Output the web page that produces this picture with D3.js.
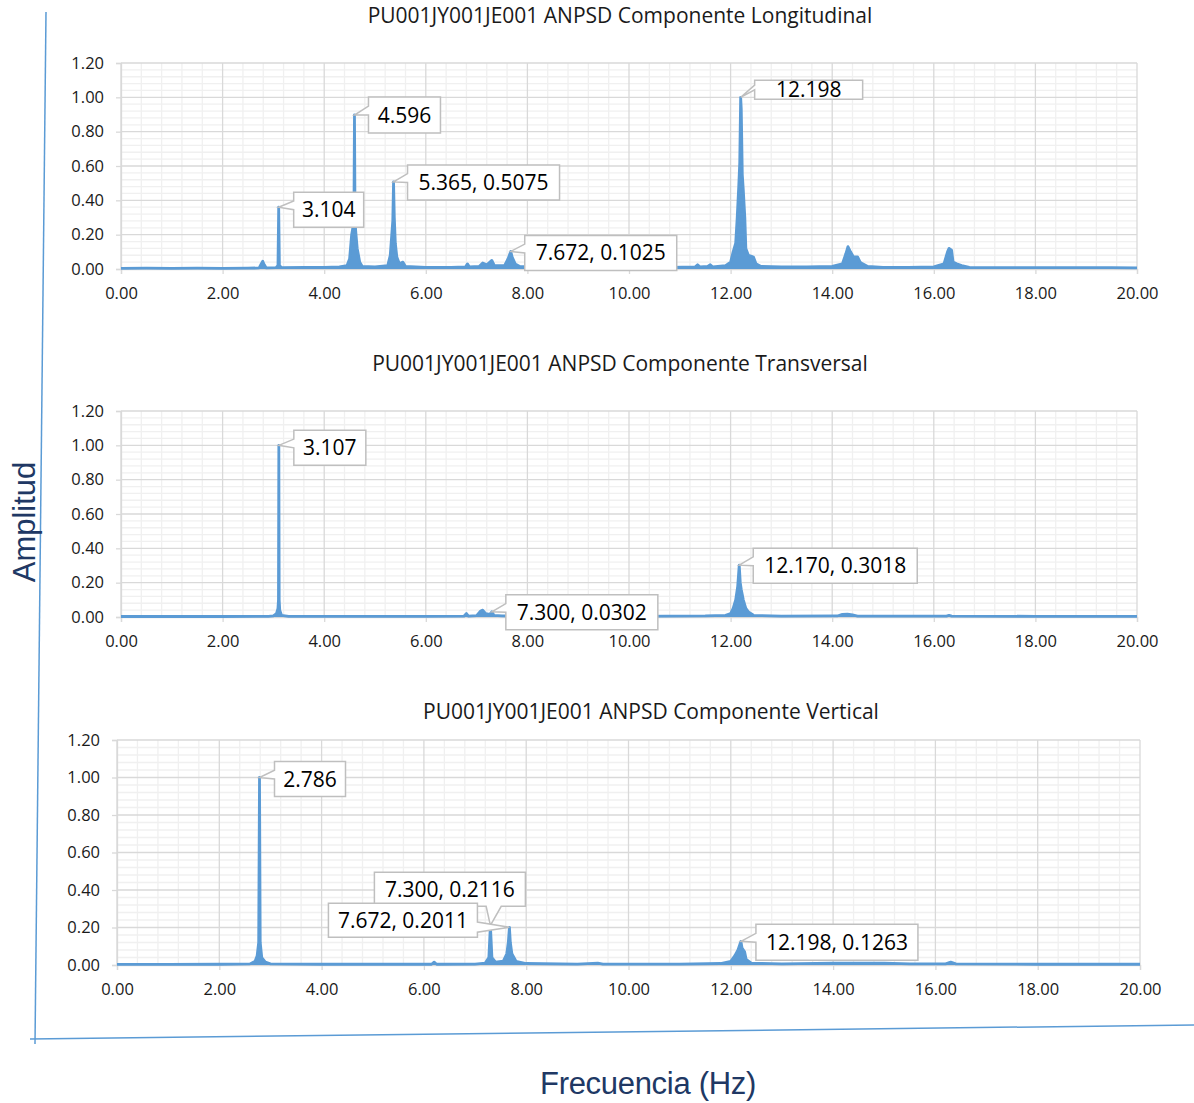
<!DOCTYPE html>
<html>
<head>
<meta charset="utf-8">
<script src="https://cdn.jsdelivr.net/npm/d3@7/dist/d3.min.js"></script>
<style>
  html, body { margin: 0; padding: 0; background: #ffffff; }
  svg { display: block; }
</style>
</head>
<body>
<svg id="chart" width="1194" height="1103"></svg>
<script>
// ---- Spectrum data: [frequency (Hz), normalized amplitude] ----
const longitudinal = [
  [0, 0.004], [0.5, 0.005], [1.0, 0.004], [1.5, 0.005], [2.0, 0.004], [2.5, 0.005],
  [2.72, 0.006], [2.76, 0.03], [2.79, 0.045], [2.82, 0.025], [2.86, 0.006],
  [3.05, 0.008], [3.09, 0.02], [3.104, 0.36], [3.118, 0.02], [3.16, 0.008],
  [3.6, 0.009], [4.0, 0.01], [4.3, 0.012], [4.45, 0.02], [4.5, 0.06], [4.54, 0.2],
  [4.57, 0.25], [4.585, 0.3], [4.596, 0.897], [4.607, 0.3], [4.62, 0.22], [4.65, 0.12],
  [4.7, 0.04], [4.75, 0.015], [5.0, 0.012], [5.25, 0.02], [5.3, 0.08], [5.33, 0.2],
  [5.35, 0.28], [5.365, 0.5075], [5.38, 0.3], [5.4, 0.15], [5.43, 0.07], [5.48, 0.03],
  [5.55, 0.04], [5.6, 0.015], [6.0, 0.01], [6.5, 0.01], [6.78, 0.012], [6.82, 0.03],
  [6.86, 0.012], [7.05, 0.015], [7.12, 0.035], [7.2, 0.025], [7.3, 0.05], [7.35, 0.02],
  [7.55, 0.02], [7.62, 0.06], [7.672, 0.1025], [7.7, 0.07], [7.76, 0.03], [7.85, 0.015],
  [8.2, 0.01], [9.0, 0.008], [10.0, 0.008], [10.8, 0.01], [11.3, 0.012], [11.35, 0.025],
  [11.4, 0.012], [11.55, 0.015], [11.6, 0.025], [11.65, 0.012], [11.9, 0.02], [12.0, 0.04],
  [12.05, 0.1], [12.1, 0.15], [12.13, 0.3], [12.16, 0.48], [12.18, 0.62], [12.198, 1.0],
  [12.21, 0.93], [12.23, 0.55], [12.25, 0.46], [12.28, 0.3], [12.3, 0.12], [12.35, 0.08],
  [12.4, 0.075], [12.45, 0.07], [12.5, 0.03], [12.6, 0.015], [13.0, 0.012], [13.5, 0.012],
  [14.0, 0.015], [14.2, 0.03], [14.27, 0.09], [14.31, 0.13], [14.36, 0.1], [14.42, 0.07],
  [14.5, 0.07], [14.55, 0.04], [14.6, 0.03], [14.7, 0.015], [15.0, 0.01], [15.5, 0.01],
  [16.0, 0.012], [16.2, 0.03], [16.27, 0.1], [16.3, 0.12], [16.35, 0.11], [16.38, 0.04],
  [16.45, 0.03], [16.55, 0.02], [16.7, 0.01], [17.5, 0.008], [18.5, 0.008], [19.5, 0.008],
  [20, 0.007]
];

const transversal = [
  [0, 0.003], [1, 0.003], [2, 0.003], [2.9, 0.004], [3.0, 0.006], [3.06, 0.02],
  [3.09, 0.05], [3.1, 0.1], [3.107, 1.0], [3.114, 0.1], [3.125, 0.04], [3.16, 0.01],
  [3.3, 0.004], [4.5, 0.004], [6.0, 0.004], [6.75, 0.005], [6.8, 0.02], [6.84, 0.005],
  [7.0, 0.008], [7.08, 0.035], [7.12, 0.04], [7.18, 0.02], [7.26, 0.015], [7.3, 0.0302],
  [7.34, 0.01], [7.5, 0.006], [8.5, 0.004], [10, 0.004], [11.5, 0.006], [11.9, 0.01],
  [12.0, 0.02], [12.05, 0.05], [12.1, 0.1], [12.14, 0.18], [12.17, 0.3018], [12.19, 0.2],
  [12.21, 0.16], [12.25, 0.1], [12.3, 0.05], [12.35, 0.03], [12.45, 0.01], [13, 0.005],
  [14.1, 0.006], [14.2, 0.015], [14.3, 0.017], [14.4, 0.012], [14.5, 0.005], [16.25, 0.005],
  [16.3, 0.01], [16.35, 0.005], [18, 0.004], [20, 0.004]
];

const vertical = [
  [0, 0.003], [1, 0.003], [2, 0.004], [2.6, 0.006], [2.7, 0.02], [2.74, 0.05],
  [2.77, 0.12], [2.786, 1.0], [2.8, 0.12], [2.83, 0.04], [2.9, 0.015], [3.0, 0.006],
  [4, 0.004], [5, 0.004], [6.15, 0.004], [6.2, 0.015], [6.25, 0.004], [7.0, 0.005],
  [7.2, 0.01], [7.27, 0.04], [7.3, 0.2116], [7.33, 0.04], [7.4, 0.015], [7.55, 0.02],
  [7.62, 0.06], [7.65, 0.12], [7.672, 0.2011], [7.69, 0.12], [7.72, 0.06], [7.8, 0.02],
  [8.0, 0.008], [9.0, 0.005], [9.4, 0.01], [9.5, 0.005], [11, 0.005], [11.8, 0.008],
  [12.0, 0.02], [12.08, 0.05], [12.14, 0.08], [12.198, 0.1263], [12.22, 0.09], [12.27, 0.07],
  [12.3, 0.03], [12.4, 0.01], [13, 0.006], [14, 0.01], [15, 0.01], [15.5, 0.006],
  [16.2, 0.006], [16.3, 0.015], [16.4, 0.006], [18, 0.004], [20, 0.004]
];

// ---- Peak labels: text, frequency, amplitude ----
const longLabels = [
  { text: "3.104", f: 3.104, a: 0.36 },
  { text: "4.596", f: 4.596, a: 0.897 },
  { text: "5.365, 0.5075", f: 5.365, a: 0.5075 },
  { text: "7.672, 0.1025", f: 7.672, a: 0.1025 },
  { text: "12.198", f: 12.198, a: 1.0 }
];
const transLabels = [
  { text: "3.107", f: 3.107, a: 1.0 },
  { text: "7.300, 0.0302", f: 7.300, a: 0.0302 },
  { text: "12.170, 0.3018", f: 12.170, a: 0.3018 }
];
const vertLabels = [
  { text: "2.786", f: 2.786, a: 1.0 },
  { text: "7.300, 0.2116", f: 7.300, a: 0.2116 },
  { text: "7.672, 0.2011", f: 7.672, a: 0.2011 },
  { text: "12.198, 0.1263", f: 12.198, a: 0.1263 }
];

// ---- Axis ticks and text ----
const xTicks = [0, 2, 4, 6, 8, 10, 12, 14, 16, 18, 20];
const yTicks = [0, 0.2, 0.4, 0.6, 0.8, 1.0, 1.2];
const titles = [
  "PU001JY001JE001 ANPSD Componente Longitudinal",
  "PU001JY001JE001 ANPSD Componente Transversal",
  "PU001JY001JE001 ANPSD Componente Vertical"
];
const yAxisTitle = "Amplitud";
const xAxisTitle = "Frecuencia (Hz)";

// ---- Layout ----
const BLUE = "#5b9bd5";
const FONT = "'Open Sans', sans-serif";

// label box layout: offset from the peak (dx, dy), size (w, h), side of the pointer
const panels = [
  {
    data: longitudinal, labels: longLabels, title: titles[0],
    left: 121, right: 1137, bottom: 269, top: 63, titleX: 620, titleY: 16,
    boxes: [
      { dx: 15, dy: -15, w: 70, h: 35, side: "left" },
      { dx: 14, dy: -18, w: 72, h: 36, side: "left" },
      { dx: 14, dy: -17, w: 152, h: 35, side: "left" },
      { dx: 14, dy: -16, w: 152, h: 35, side: "left" },
      { dx: 14, dy: -17, w: 108, h: 19, side: "left" }
    ]
  },
  {
    data: transversal, labels: transLabels, title: titles[1],
    left: 121, right: 1137, bottom: 617, top: 411, titleX: 620, titleY: 364,
    boxes: [
      { dx: 15, dy: -15, w: 72, h: 35, side: "left" },
      { dx: 14, dy: -17, w: 152, h: 35, side: "left" },
      { dx: 14, dy: -17, w: 164, h: 35, side: "left" }
    ]
  },
  {
    data: vertical, labels: vertLabels, title: titles[2],
    left: 117, right: 1140, bottom: 965, top: 740, titleX: 651, titleY: 712,
    boxes: [
      { dx: 15, dy: -16, w: 71, h: 35, side: "left" },
      { dx: -116, dy: -53, w: 151, h: 34, side: "bottom" },
      { dx: -181, dy: -24, w: 149, h: 34, side: "right" },
      { dx: 15, dy: -17, w: 162, h: 36, side: "left" }
    ]
  }
];

const svg = d3.select("#chart");
svg.append("rect").attr("width", 1194).attr("height", 1103).attr("fill", "#ffffff");

// Callout outline: box with a wedge pointing at (ax, ay)
function calloutPath(bx, by, w, h, ax, ay, side) {
  const p = d3.path();
  if (side === "left") {
    p.moveTo(bx, by); p.lineTo(bx + w, by); p.lineTo(bx + w, by + h); p.lineTo(bx, by + h);
    p.lineTo(bx, by + h * 0.5); p.lineTo(ax, ay); p.lineTo(bx, by + h * 0.25);
  } else if (side === "bottom") {
    p.moveTo(bx, by); p.lineTo(bx + w, by); p.lineTo(bx + w, by + h);
    p.lineTo(bx + w * 0.84, by + h); p.lineTo(ax, ay); p.lineTo(bx + w * 0.74, by + h);
    p.lineTo(bx, by + h);
  } else {
    p.moveTo(bx, by); p.lineTo(bx + w, by); p.lineTo(bx + w, by + h * 0.55);
    p.lineTo(ax, ay); p.lineTo(bx + w, by + h * 0.85); p.lineTo(bx + w, by + h);
    p.lineTo(bx, by + h);
  }
  p.closePath();
  return p.toString();
}

panels.forEach(pn => {
  const x = d3.scaleLinear().domain([0, 20]).range([pn.left, pn.right]);
  const y = d3.scaleLinear().domain([0, 1.2]).range([pn.bottom, pn.top]);
  const g = svg.append("g");

  // minor grid
  const xMinor = d3.range(0, 20.001, 0.4).filter(v => Math.abs(v / 2 - Math.round(v / 2)) > 1e-6);
  const yMinor = d3.range(0, 1.2001, 0.04).filter(v => Math.abs(v / 0.2 - Math.round(v / 0.2)) > 1e-6);
  g.selectAll(".xminor").data(xMinor).join("line")
    .attr("x1", d => x(d)).attr("x2", d => x(d)).attr("y1", y(0)).attr("y2", y(1.2))
    .attr("stroke", "#f0f0f0").attr("stroke-width", 1.3);
  g.selectAll(".yminor").data(yMinor).join("line")
    .attr("x1", x(0)).attr("x2", x(20)).attr("y1", d => y(d)).attr("y2", d => y(d))
    .attr("stroke", "#f0f0f0").attr("stroke-width", 1.3);

  // major grid
  g.selectAll(".xmajor").data(xTicks).join("line")
    .attr("x1", d => x(d)).attr("x2", d => x(d)).attr("y1", y(0)).attr("y2", y(1.2))
    .attr("stroke", "#d9d9d9").attr("stroke-width", 1.3);
  g.selectAll(".ymajor").data(yTicks).join("line")
    .attr("x1", x(0)).attr("x2", x(20)).attr("y1", d => y(d)).attr("y2", d => y(d))
    .attr("stroke", "#d9d9d9").attr("stroke-width", 1.3);

  // axes
  const fmt = d3.format(".2f");
  const xAxis = g.append("g").attr("transform", `translate(0,${y(0)})`)
    .call(d3.axisBottom(x).tickValues(xTicks).tickFormat(fmt).tickSize(5).tickPadding(13));
  const yAxis = g.append("g").attr("transform", `translate(${x(0)},0)`)
    .call(d3.axisLeft(y).tickValues(yTicks).tickFormat(fmt).tickSize(5).tickPadding(12));
  [xAxis, yAxis].forEach(a => {
    a.select(".domain").attr("stroke", "#d9d9d9").attr("stroke-width", 1.3);
    a.selectAll(".tick line").attr("stroke", "#d9d9d9").attr("stroke-width", 1.3);
    a.selectAll(".tick text").attr("font-family", FONT).attr("font-size", 16.5).attr("fill", "#1a1a1a");
  });

  // spectrum
  const area = d3.area().x(d => x(d[0])).y0(y(0)).y1(d => y(d[1]));
  const line = d3.line().x(d => x(d[0])).y(d => y(d[1]));
  g.append("path").datum(pn.data).attr("d", area).attr("fill", BLUE);
  g.append("path").datum(pn.data).attr("d", line)
    .attr("fill", "none").attr("stroke", BLUE).attr("stroke-width", 2.8).attr("stroke-linejoin", "round");

  // title
  g.append("text").attr("x", pn.titleX).attr("y", pn.titleY).attr("dy", "0.35em")
    .attr("text-anchor", "middle").attr("font-family", FONT).attr("font-size", 21)
    .attr("fill", "#1a1a1a").text(pn.title);

  // callouts
  pn.labels.forEach((lb, i) => {
    const b = pn.boxes[i];
    const ax = x(lb.f), ay = y(lb.a);
    const bx = ax + b.dx, by = ay + b.dy;
    g.append("path").attr("d", calloutPath(bx, by, b.w, b.h, ax, ay, b.side))
      .attr("fill", "#ffffff").attr("stroke", "#bfbfbf").attr("stroke-width", 1.5);
    g.append("text").attr("x", bx + b.w / 2).attr("y", by + b.h / 2).attr("dy", "0.36em")
      .attr("text-anchor", "middle").attr("font-family", FONT).attr("font-size", 21)
      .attr("fill", "#000000").text(lb.text);
  });
});

// outer frame axes
svg.append("line").attr("x1", 46).attr("y1", 12).attr("x2", 35).attr("y2", 1044)
  .attr("stroke", BLUE).attr("stroke-width", 1.5);
svg.append("line").attr("x1", 30).attr("y1", 1039).attr("x2", 1194).attr("y2", 1025)
  .attr("stroke", BLUE).attr("stroke-width", 1.5);

svg.append("text").attr("transform", "translate(35,522) rotate(-90)")
  .attr("text-anchor", "middle").attr("font-family", "'Liberation Sans', Arial, sans-serif")
  .attr("font-size", 31).attr("fill", "#203864").text(yAxisTitle);
svg.append("text").attr("x", 648).attr("y", 1094)
  .attr("text-anchor", "middle").attr("font-family", "'Liberation Sans', Arial, sans-serif")
  .attr("font-size", 31).attr("letter-spacing", -0.3).attr("fill", "#203864").text(xAxisTitle);
</script>
</body>
</html>
